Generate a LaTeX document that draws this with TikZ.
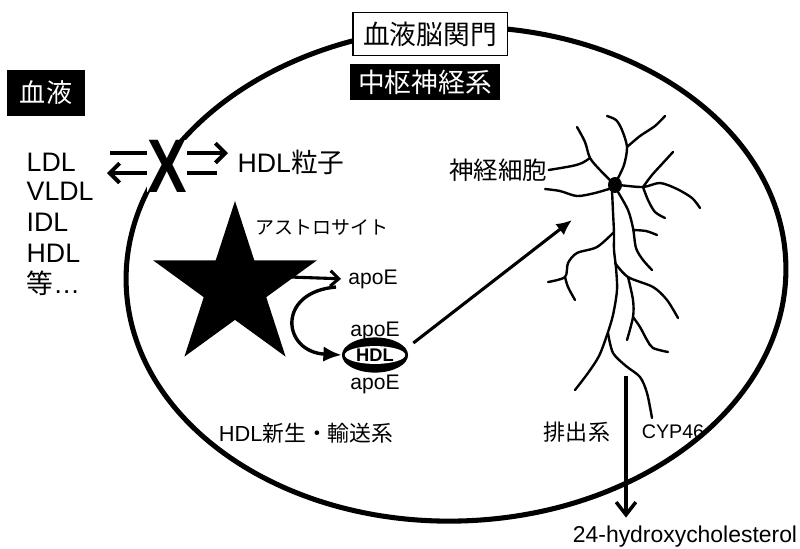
\documentclass[tikz,border=0pt]{standalone}
\usepackage{fontspec}
\setmainfont{Liberation Sans}
\newfontfamily\jp{Noto Sans CJK JP}
\usetikzlibrary{arrows.meta,shapes.geometric}

\newcommand{\fsz}[1]{\fontsize{#1}{#1}\selectfont}

\tikzset{
	txt/.style={inner sep=1pt,font=\fsz{#1}},
	jtxt/.style={inner sep=1pt,font=\jp\fsz{#1}},
	darkbox/.style={fill=black,text=white,inner sep=0pt},
	openarrow/.style={line width=2.8pt,-{Straight Barb[length=7pt,width=14pt]}},
	solidarrow/.style={line width=2.2pt,-{Latex[length=11pt,width=10pt]}},
	dendrite/.style={line width=1.7pt,line cap=round,line join=round},
}

\begin{document}
\begin{tikzpicture}[x=0.025cm,y=-0.025cm]
		\useasboundingbox (0,0) rectangle (800,548);
%		\draw[help lines,step=50] (0,0) grid (800,548);
		\path (456,274) coordinate (cns_c);
		\path (110,153) coordinate (flux_in_l);
		\path (228,153) coordinate (flux_in_r);
		\path (217,173) coordinate (flux_out_r);
		\path (107,173) coordinate (flux_out_l);
		\path (290,277) coordinate (astro_r);
		\path (336,287) coordinate (lipid_s);
		\path (572,220) coordinate (neuron_in);
		\path (626,376) coordinate (axon_end);

		% blood-brain barrier
		\draw[line width=3.6pt,rotate around={2:(cns_c)}] (cns_c) ellipse [x radius=330, y radius=247];

		\node[darkbox,minimum width=54.8pt,minimum height=33.4pt,font=\jp\fsz{18.5}] (blood) at (46,93) {血液};
		\node[draw,line width=1.2pt,fill=white,inner sep=0pt,minimum width=110pt,minimum height=30.6pt,font=\jp\fsz{19}] (bbb) at (430,34) {血液脳関門};
		\node[darkbox,minimum width=107pt,minimum height=26.3pt,font=\jp\fsz{19}] (cns) at (425,82) {中枢神経系};

		% lipoproteins in the blood
		\node[txt=19,anchor=base west] (ldl) at (25,171) {LDL};
		\node[txt=19,anchor=base west] (vldl) at (25,200) {VLDL};
		\node[txt=19,anchor=base west] (idl) at (25,231) {IDL};
		\node[txt=19,anchor=base west] (hdl_b) at (25,262) {HDL};
		\node[txt=19,anchor=base west] (etc) at (25,293) {{\jp 等}…};

		\draw[openarrow] (flux_in_l) -- (flux_in_r);
		\draw[openarrow] (flux_out_r) -- (flux_out_l);
		\node[fill=white,inner sep=0pt,font=\bfseries\fsz{54}] (block) at (167,166) {\scalebox{0.78}[1]{X}};
		\node[txt=19] (hdlp) at (291,162) {HDL{\jp 粒子}};

		% astrocyte and HDL
		\node[star,star points=5,star point ratio=2.618,fill=black,minimum size=4.3cm,inner sep=0pt] (astro) at (235,287) {};
		\node[jtxt=13.5] (astro_lbl) at (322,227) {アストロサイト};
		\node[txt=15] (apoe_free) at (373,279) {apoE};
		\node[txt=15] (apoe_top) at (375,331) {apoE};
		\node[txt=15] (apoe_bot) at (375,384) {apoE};
		\node[ellipse,fill=black,minimum width=47pt,minimum height=25pt,inner sep=0pt] (hdl) at (375,355) {};
		\node[ellipse,fill=white,minimum width=43pt,minimum height=12.5pt,inner sep=0pt,font=\bfseries\fsz{13}] (hdl_core) at (hdl.center) {HDL};

		\draw[line width=2.2pt,-{Straight Barb[length=6pt,width=11pt]},shorten >=4pt] (astro_r) -- (apoe_free.west);
		\draw[line width=2.4pt,-{Latex[length=13pt,width=11pt]}] (lipid_s) .. controls (276,292) and (282,352) .. (hdl.west);
		\draw[solidarrow] ([shift={(5,-12)}]hdl.east) -- (neuron_in);

		% neuron
		\node[jtxt=17.4] (neuron) at (498,170) {神経細胞};
		\draw[dendrite] plot[smooth] coordinates {(613,183) (600,170) (590,158) (585,142) (577,127)};
		\draw[dendrite] plot[smooth] coordinates {(neuron.east) (572,166) (582,163) (590,158)};
		\draw[dendrite] plot[smooth] coordinates {(617,180) (624,165) (627,147) (622,130) (616,120) (607,116)};
		\draw[dendrite] plot[smooth] coordinates {(627,147) (640,136) (655,126) (665,116)};
		\draw[dendrite] plot[smooth] coordinates {(612,188) (595,193) (577,196) (560,191) (545,189)};
		\draw[dendrite] plot[smooth] coordinates {(619,185) (643,187) (660,183) (677,189) (692,198) (700,208)};
		\draw[dendrite] plot[smooth] coordinates {(643,187) (652,175) (662,164) (673,152)};
		\draw[dendrite] plot[smooth] coordinates {(643,187) (648,200) (655,212) (665,218)};
		\draw[dendrite] plot[smooth] coordinates {(612,190) (613,212) (614,233) (614,250) (616,268) (617,290) (613,315) (607,335) (599,356) (588,373) (575,390)};
		\draw[dendrite] plot[smooth] coordinates {(618,192) (628,210) (633,228) (636,248) (643,260) (652,270)};
		\draw[dendrite] plot[smooth] coordinates {(633,230) (646,231) (657,235)};
		\draw[dendrite] plot[smooth] coordinates {(614,232) (597,247) (577,253) (568,263) (565,277) (548,282)};
		\draw[dendrite] plot[smooth] coordinates {(565,277) (568,287) (575,300)};
		\draw[dendrite] plot[smooth] coordinates {(615,263) (628,277) (653,287) (667,300) (678,318)};
		\draw[dendrite] plot[smooth] coordinates {(628,277) (633,300) (633,317) (627,340)};
		\draw[dendrite] plot[smooth] coordinates {(633,317) (640,327) (647,340) (653,348) (668,352)};
		\draw[dendrite] plot[smooth] coordinates {(608,333) (613,353) (626,366) (640,377) (647,393) (652,418)};
		\fill (615,185) ellipse [x radius=7, y radius=8];

		% clearance
		\node[txt=15.5] (hdl_sys) at (306,433) {HDL{\jp 新生・輸送系}};
		\node[jtxt=15.7] (excr_sys) at (577,432) {排出系};
		\node[txt=14] (cyp) at (673,432) {CYP46};
		\node[txt=16.3] (hydroxy) at (685,537) {24-hydroxycholesterol};
		\draw[line width=2.5pt,-{Straight Barb[length=9pt,width=14pt]},shorten >=5pt] (axon_end) -- (axon_end |- hydroxy.north);
	\end{tikzpicture}
\end{document}
